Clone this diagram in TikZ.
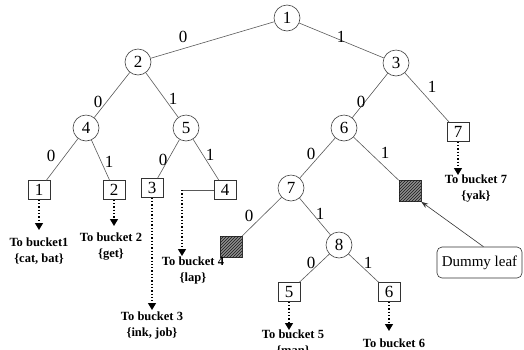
\documentclass[tikz,border=0pt]{standalone}
\usepackage{fontspec}
\setmainfont{Liberation Serif}
\usetikzlibrary{arrows.meta,patterns}
\begin{document}
\begin{tikzpicture}[x=1pt,y=-1pt,
 circ/.style={circle,draw=black!75,line width=0.6pt,minimum size=26pt,inner sep=0pt,font=\fontsize{17}{17}\selectfont},
 leaf/.style={rectangle,draw=black!80,line width=0.6pt,minimum width=22pt,minimum height=19pt,inner sep=0pt,font=\fontsize{17}{17}\selectfont},
 hatch/.style={rectangle,draw=black!80,line width=0.6pt,minimum width=22pt,minimum height=21pt,fill=black!45,postaction={pattern=north east lines,pattern color=black!90}},
 edge/.style={draw=black!65,line width=0.6pt},
 lab/.style={font=\fontsize{17}{17}\selectfont,inner sep=0pt},
 bucket/.style={font=\bfseries\fontsize{12.5}{16}\selectfont,align=center,inner sep=0pt},
 dotarrow/.style={line width=1.3pt,dotted,-{Triangle[length=7pt,width=8pt]}},
 dummybox/.style={rectangle,rounded corners=5pt,draw=black!80,line width=0.6pt,minimum width=85pt,minimum height=31pt,font=\fontsize{15}{15}\selectfont},
]
\useasboundingbox (0,0) rectangle (524,349);
% internal nodes
\node[circ] (c1) at (287,18) {1};
\node[circ] (c2) at (138,62) {2};
\node[circ] (c3) at (396,63) {3};
\node[circ] (c4) at (86,128) {4};
\node[circ] (c5) at (186,128) {5};
\node[circ] (c6) at (344,128) {6};
\node[circ] (c7) at (291,188) {7};
\node[circ] (c8) at (339,245) {8};
% leaves
\node[leaf] (b1) at (39,190) {1};
\node[leaf] (b2) at (114,190) {2};
\node[leaf] (b3) at (152,188) {3};
\node[leaf] (b4) at (225,190) {4};
\node[leaf] (b7) at (458,132) {7};
\node[leaf] (b5) at (289,292) {5};
\node[leaf] (b6) at (389,292) {6};
\node[hatch] (hL) at (231,247) {};
\node[hatch] (hR) at (410,191) {};
\node[dummybox] (dummy) at (479.5,262.5) {Dummy leaf};
% edges
\path[edge] (c1) -- (c2);
\path[edge] (c1) -- (c3);
\path[edge] (c2) -- (c4);
\path[edge] (c2) -- (c5);
\path[edge] (c4) -- (b1);
\path[edge] (c4) -- (b2);
\path[edge] (c5) -- (b3);
\path[edge] (c5) -- (b4);
\path[edge] (c3) -- (c6);
\path[edge] (c3) -- (b7);
\path[edge] (c6) -- (c7);
\path[edge] (c6) -- (hR);
\path[edge] (c7) -- (hL);
\path[edge] (c7) -- (c8);
\path[edge] (c8) -- (b5);
\path[edge] (c8) -- (b6);
% edge labels
\node[lab] (l12) at (183,37) {0};
\node[lab] (l13) at (341,37) {1};
\node[lab] (l24) at (98,102) {0};
\node[lab] (l25) at (173,99) {1};
\node[lab] (l4a) at (51,156) {0};
\node[lab] (l4b) at (109,162) {1};
\node[lab] (l5a) at (163,160) {0};
\node[lab] (l5b) at (210,155) {1};
\node[lab] (l36) at (361,102) {0};
\node[lab] (l37) at (432,87) {1};
\node[lab] (l6a) at (311,154) {0};
\node[lab] (l6b) at (385,153) {1};
\node[lab] (l7a) at (249,216) {0};
\node[lab] (l7b) at (320,214) {1};
\node[lab] (l8a) at (311,263) {0};
\node[lab] (l8b) at (368,263) {1};
% bucket texts
\node[bucket] (t1) at (39,251) {To bucket1\\\{cat, bat\}};
\node[bucket] (t2) at (111,246.5) {To bucket 2\\\{get\}};
\node[bucket] (t3) at (152,325.5) {To bucket 3\\\{ink, job\}};
\node[bucket] (t4) at (193,270) {To bucket 4\\\{lap\}};
\node[bucket] (t7) at (476,189) {To bucket 7\\\{yak\}};
\node[bucket] (t5) at (293,343) {To bucket 5\\\{man\}};
\node[bucket] (t6) at (394,343) {To bucket 6};
% arrow ends
\coordinate (a1) at (39,230);
\coordinate (a2) at (114,226);
\coordinate (a3) at (152,310);
\coordinate (k4) at (182,190);
\coordinate (a4) at (182,256);
\coordinate (a7) at (458,175);
\coordinate (a5) at (289,330);
\coordinate (a6) at (389,331);
\draw[dotarrow] (b1) -- (a1);
\draw[dotarrow] (b2) -- (a2);
\draw[dotarrow] (b3) -- (a3);
\draw[edge] (b4) -- (k4);
\draw[dotarrow] (k4) -- (a4);
\draw[dotarrow] (b7) -- (a7);
\draw[dotarrow] (b5) -- (a5);
\draw[dotarrow] (b6) -- (a6);
% dummy arrow
\draw[black!80,line width=0.6pt,-{Stealth[length=7pt,width=5pt]}] ([xshift=4pt]dummy.north) -- (hR.south east);
\end{tikzpicture}
\end{document}
